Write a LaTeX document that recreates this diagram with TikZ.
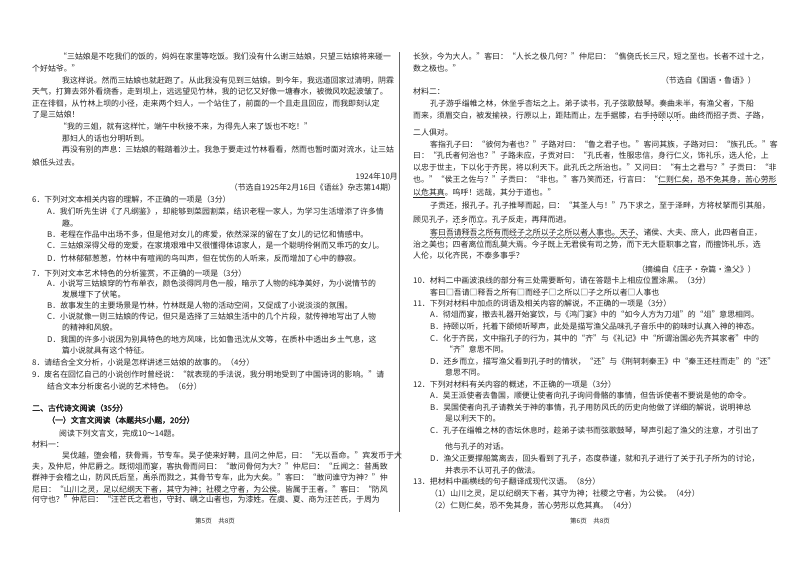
\documentclass[tikz,border=0pt]{standalone}
\usepackage{fontspec}
\usetikzlibrary{decorations.pathmorphing}
\setmainfont[AutoFakeBold=2.5]{Noto Sans CJK SC}
\XeTeXlinebreaklocale "zh"
\XeTeXlinebreakskip=0pt plus 3pt minus 1pt
\newcounter{ln}
\newcommand\J[4]{\stepcounter{ln}\node[txt] (ln\arabic{ln}) at (#1,#2) {\hbox to \dimexpr#3pt-#1pt\relax{#4}};}
\newcommand\N[3]{\stepcounter{ln}\node[txt] (ln\arabic{ln}) at (#1,#2) {#3};}
\newcommand\R[3]{\stepcounter{ln}\node[txt,anchor=base east] (ln\arabic{ln}) at (#1,#2) {#3};}
\newcommand\C[3]{\stepcounter{ln}\node[txt,anchor=base,font=\fontsize{6.5}{8}\selectfont] (ln\arabic{ln}) at (#1,#2) {#3};}
\newcommand\myul[1]{\setbox0\hbox{#1}\rlap{\rule[-2.2pt]{\wd0}{0.5pt}}\box0}
\newcommand\myed[1]{\setbox0\hbox{#1}\rlap{\hbox to\wd0{\hss\raisebox{-2.8pt}{\rule{0.9pt}{0.9pt}}\hss}}\box0}
\tikzset{txt/.style={anchor=base west,inner sep=0pt,font=\fontsize{7.9}{9}\selectfont,text=black!85}}
\begin{document}
\begin{tikzpicture}[x=1pt,y=-1pt]
\fill[white] (0,0) rectangle (800,562);
\useasboundingbox (0,0) rectangle (800,562);
\draw[black!60,line width=0.6pt] (399,52) -- (399,512);
% left column
\J{59}{59}{398}{“三姑娘是不吃我们的饭的，妈妈在家里等吃饭。我们没有什么谢三姑娘，只望三姑娘将来碰一}
\N{32}{71}{个好姑爷。”}
\J{62}{83}{398}{我这样说。然而三姑娘也就赶跑了。从此我没有见到三姑娘。到今年，我远道回家过清明，阴霖}
\J{32}{94}{398}{天气，打算去郊外看烧香，走到坝上，远远望见竹林，我的记忆又好像一塘春水，被微风吹起波皱了。}
\J{32}{106}{398}{正在徘徊，从竹林上坝的小径，走来两个妇人，一个站住了，前面的一个且走且回应，而我即刻认定}
\N{32}{117}{了是三姑娘！}
\N{59}{129}{“我的三姐，就有这样忙，端午中秋接不来，为得先人来了饭也不吃！”}
\N{62}{141}{那妇人的话也分明听到。}
\J{62}{152}{398}{再没有别的声息：三姑娘的鞋踏着沙土。我急于要走过竹林看看，然而也暂时面对流水，让三姑}
\N{32}{165}{娘低头过去。}
\R{398}{179}{1924年10月}
\R{396}{190}{（节选自1925年2月16日《语丝》杂志第14期）}
\N{32}{202}{6．下列对文本相关内容的理解，不正确的一项是（3分）}
\J{47}{214}{398}{A．我们听先生讲《了凡纲鉴》，却能够到菜园割菜，结识老程一家人，为学习生活增添了许多情}
\N{62}{226}{趣。}
\N{47}{237}{B．老程在作品中出场不多，但是他对女儿的疼爱，依然深深的留在了女儿的记忆和情感中。}
\N{47}{248}{C．三姑娘深得父母的宠爱，在家境艰难中又很懂得体谅家人，是一个聪明伶俐而又乖巧的女儿。}
\N{47}{261}{D．竹林郁郁葱葱，竹林中有喧闹的鸟叫声，但在忧伤的人听来，反而增加了心中的静寂。}
\N{32}{276}{7．下列对文本艺术特色的分析鉴赏，不正确的一项是（3分）}
\J{47}{286}{398}{A．小说写三姑娘穿的竹布单衣，颜色淡得同月色一般，暗示了人物的纯净美好，为小说情节的}
\N{62}{297}{发展埋下了伏笔。}
\N{47}{308}{B．故事发生的主要场景是竹林，竹林既是人物的活动空间，又促成了小说淡淡的氛围。}
\J{47}{319}{398}{C．小说就像一则三姑娘的传记，但只是选择了三姑娘生活中的几个片段，就传神地写出了人物}
\N{62}{330}{的精神和风貌。}
\J{47}{342}{398}{D．我国的许多小说因为别具特色的地方风味，比如鲁迅沈从文等，在质朴中透出乡土气息，这}
\N{62}{353}{篇小说就具有这个特征。}
\N{32}{365}{8．请结合全文分析，小说是怎样讲述三姑娘的故事的。（4分）}
\J{32}{377}{398}{9．废名在回忆自己的小说创作时曾经说：“就表现的手法说，我分明地受到了中国诗词的影响。”请}
\N{47}{389}{结合文本分析废名小说的艺术特色。（6分）}
\N{32}{411}{\bfseries 二、古代诗文阅读（35分）}
\N{47}{423}{\bfseries （一）文言文阅读（本题共5小题，20分）}
\N{59}{436}{阅读下列文言文，完成10～14题。}
\N{32}{447}{材料一：}
\J{62}{458}{398}{吴伐越，堕会稽，获骨焉，节专车。吴子使来好聘，且问之仲尼，曰：“无以吾命。”宾发币于大}
\J{32}{469}{398}{夫，及仲尼，仲尼爵之。既彻\myed{俎}\myed{而}\myed{宴}，客执骨而问曰：“敢问骨何为大？”仲尼曰：“丘闻之：昔禹致}
\J{32}{480}{398}{群神于会稽之山，防风氏后至，禹杀而戮之，其骨节专车，此为大矣。”客曰：“敢问谁守为神？”仲}
\J{32}{492}{398}{尼曰：“\myul{山川之灵，足以纪纲天下者，其守为神；社稷之守者，为公侯}。皆属于王者。”客曰：“防风}
\J{32}{502}{398}{何守也？”仲尼曰：“汪芒氏之君也，守封、嵎之山者也，为漆姓。在虞、夏、商为汪芒氏，于周为}
\C{215}{523}{第5页\quad 共8页}
% right column
\J{413}{59}{760}{长狄，今为大人。”客曰：“人长之极几何？”仲尼曰：“僬侥氏长三尺，短之至也。长者不过十之，}
\N{413}{71}{数之极也。”}
\R{756}{83}{（节选自《国语·鲁语》）}
\N{413}{94}{材料二：}
\J{430}{106}{760}{孔子游乎缁帷之林，休坐乎杏坛之上。弟子读书，孔子弦歌鼓琴。奏曲未半，有渔父者，下船}
\J{413}{118}{760}{而来，须眉交白，被发揄袂，行原以上，距陆而止，左手据膝，右手\myed{持}\myed{颐}\myed{以}\myed{听}。曲终而招子贡、子路，}
\N{413}{135}{二人俱对。}
\J{430}{147}{760}{客指孔子曰：“彼何为者也？”子路对曰：“鲁之君子也。”客问其族，子路对曰：“族孔氏。”客}
\J{413}{158}{760}{曰：“孔氏者何治也？”子路未应，子贡对曰：“孔氏者，性服忠信，身行仁义，饰礼乐，选人伦，上}
\J{413}{170}{760}{以忠于世主，下以\myed{化}\myed{于}\myed{齐}\myed{民}，将以利天下。此孔氏之所治也。”又问曰：“有土之君与？”子贡曰：“非}
\J{413}{182}{760}{也。”“侯王之佐与？”子贡曰：“非也。”客乃笑而还，行言曰：“\myul{仁则仁矣，恐不免其身，苦心劳形}}
\N{413}{195}{\myul{以危其真}。呜呼！远哉，其分于道也。”}
\J{430}{208}{760}{子贡还，报孔子。孔子推琴而起，曰：“其圣人与！”乃下求之，至于泽畔，方将杖拏而引其船，}
\N{413}{222}{顾见孔子，\myed{还}\myed{乡}\myed{而}\myed{立}。孔子反走，再拜而进。}
\J{430}{235}{760}{客曰吾请释吾之所有而经子之所以子之所以者人事也。天子、诸侯、大夫、庶人，此四者自正，}
\draw[black!80,line width=0.5pt,decorate,decoration={snake,amplitude=0.7pt,segment length=3.5pt}] (ln\arabic{ln}.base west)++(0,2.6) -- ++(207,0);
\J{413}{247}{760}{治之美也；四者离位而乱莫大焉。今子既上无君侯有司之势，而下无大臣职事之官，而擅饰礼乐，选}
\N{413}{258}{人伦，以化齐民，不泰多事乎？}
\R{756}{272}{（摘编自《庄子·杂篇·渔父》）}
\N{413}{283}{10．材料二中画波浪线的部分有三处需要断句，请在答题卡上相应位置涂黑。（3分）}
\N{430}{295}{客曰□吾请□释吾之所有□而经子□之所以□子之所以者□人事也}
\N{413}{306}{11．下列对材料中加点的词语及相关内容的解说，不正确的一项是（3分）}
\J{430}{317}{760}{A．彻俎而宴，撤去礼器开始宴饮，与《鸿门宴》中的“如今人方为刀俎”的“俎”意思相同。}
\J{430}{329}{760}{B．持颐以听，托着下颌倾听琴声，此处是描写渔父品味孔子音乐中的韵味时认真入神的神态。}
\N{430}{341}{C．化于齐民，文中指孔子的行为，其中的“齐”与《礼记》中“所谓治国必先齐其家者”中的}
\N{445}{352}{“齐”意思不同。}
\N{430}{364}{D．还乡而立，描写渔父看到孔子时的情状，“还”与《荆轲刺秦王》中“秦王还柱而走”的“还”}
\N{445}{375}{意思不同。}
\N{413}{387}{12．下列对材料有关内容的概述，不正确的一项是（3分）}
\N{430}{398}{A．吴王派使者去鲁国，顺便让使者向孔子询问骨骼的事情，但告诉使者不要说是他的命令。}
\N{430}{410}{B．吴国使者向孔子请教关于神的事情，孔子用防风氏的历史向他做了详细的解说，说明神总}
\N{445}{421}{是以利天下的。}
\J{430}{433}{760}{C．孔子在缁帷之林的杏坛休息时，趁弟子读书而弦歌鼓琴，琴声引起了渔父的注意，才引出了}
\N{445}{449}{他与孔子的对话。}
\J{430}{461}{760}{D．渔父正要撑船篙离去，回头看到了孔子，态度恭谨，就和孔子进行了关于孔子所为的讨论，}
\N{445}{473}{并表示不认可孔子的做法。}
\N{413}{484}{13．把材料中画横线的句子翻译成现代汉语。（8分）}
\N{430}{496}{（1）山川之灵，足以纪纲天下者，其守为神；社稷之守者，为公侯。（4分）}
\N{430}{508}{（2）仁则仁矣，恐不免其身，苦心劳形以危其真。（4分）}
\C{590}{523}{第6页\quad 共8页}
\end{tikzpicture}
\end{document}
